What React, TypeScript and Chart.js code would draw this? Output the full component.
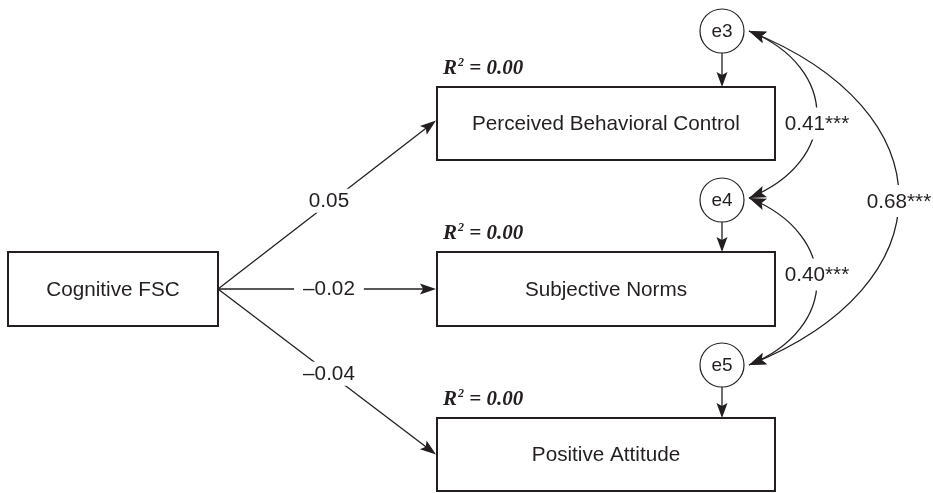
import React, { useEffect, useRef } from "react";
import { Chart, registerables } from "chart.js";

Chart.register(...registerables);

// ---------- data ----------
const observedNames = [
  "Cognitive FSC",
  "Perceived Behavioral Control",
  "Subjective Norms",
  "Positive Attitude",
];
const errorNames = ["e3", "e4", "e5"];
const errorTargets = [1, 2, 3];
const r2Values = [0.0, 0.0, 0.0];
const r2Targets = [1, 2, 3];
const pathSource = 0;
const pathTargets = [1, 2, 3];
const pathCoefs = [0.05, -0.02, -0.04];
const covFrom = [0, 1, 0];
const covTo = [1, 2, 2];
const covValues = [0.41, 0.4, 0.68];
const covSig = ["***", "***", "***"];

// ---------- layout (diagram coordinates, one unit = one pixel) ----------
const boxCX = [113, 606, 606, 606];
const boxCY = [289, 123.5, 289, 454.5];
const boxW = [210, 338, 338, 338];
const boxH = [74, 73, 74, 73];
const errCX = [722, 722, 722];
const errCY = [31, 200, 365];
const errR = 22;
const covBulgeX = [817, 817, 899];
const covLabelDY = [9, -7, 3];

const INK = "#231f20";
const SANS = "'Liberation Sans', Arial, Helvetica, sans-serif";
const SERIF = "'Liberation Serif', 'Times New Roman', serif";
const FS = 20.7;

function fmt(v: number): string {
  const s = Math.abs(v).toFixed(2);
  return v < 0 ? "\u2013" + s : s;
}

function arrowHead(
  ctx: CanvasRenderingContext2D,
  tipX: number,
  tipY: number,
  dirX: number,
  dirY: number,
  len: number,
  half: number
) {
  const n = Math.hypot(dirX, dirY) || 1;
  const ux = dirX / n;
  const uy = dirY / n;
  const bx = tipX - ux * len;
  const by = tipY - uy * len;
  const nx = -uy;
  const ny = ux;
  ctx.beginPath();
  ctx.moveTo(tipX, tipY);
  ctx.lineTo(bx + nx * half, by + ny * half);
  ctx.lineTo(tipX - ux * len * 0.8, tipY - uy * len * 0.8);
  ctx.lineTo(bx - nx * half, by - ny * half);
  ctx.closePath();
  ctx.fill();
}

function label(ctx: CanvasRenderingContext2D, text: string, x: number, y: number, padX: number, padY: number) {
  ctx.font = `${FS}px ${SANS}`;
  const w = ctx.measureText(text).width;
  ctx.fillStyle = "#ffffff";
  ctx.fillRect(x - w / 2 - padX, y - 10 - padY, w + 2 * padX, 20 + 2 * padY);
  ctx.fillStyle = INK;
  ctx.textAlign = "center";
  ctx.textBaseline = "middle";
  ctx.fillText(text, x, y + 1);
}

const diagramPlugin = {
  id: "pathDiagram",
  afterDatasetsDraw(chart: any) {
    const ctx: CanvasRenderingContext2D = chart.ctx;
    const xs = chart.scales.x;
    const ys = chart.scales.y;
    const px = (v: number) => xs.getPixelForValue(v);
    const py = (v: number) => ys.getPixelForValue(v);
    ctx.save();
    ctx.strokeStyle = INK;
    ctx.fillStyle = INK;
    ctx.lineCap = "butt";

    // regression paths
    const sx = px(boxCX[pathSource] + boxW[pathSource] / 2);
    const sy = py(boxCY[pathSource]);
    pathTargets.forEach((t, i) => {
      const tx = px(boxCX[t] - boxW[t] / 2) - 1;
      const ty = py(boxCY[t] - (i === 0 ? 3 : 0));
      const dx = tx - sx;
      const dy = ty - sy;
      const n = Math.hypot(dx, dy);
      ctx.lineWidth = 1.3;
      ctx.beginPath();
      ctx.moveTo(sx, sy);
      ctx.lineTo(tx - (dx / n) * 9, ty - (dy / n) * 9);
      ctx.stroke();
      arrowHead(ctx, tx, ty, dx, dy, 16, 5.5);
      const mx = sx + dx * 0.5;
      const my = sy + dy * 0.5 - (i === 0 ? 4 : i === 2 ? -2 : 1);
      label(ctx, fmt(pathCoefs[i]), mx + 2, my, 9, 2);
      ctx.fillStyle = INK;
    });

    // covariance arcs
    covValues.forEach((v, i) => {
      const a = covFrom[i];
      const b = covTo[i];
      const p0x = px(errCX[a] + errR + 5);
      const p0y = py(errCY[a] - (a === 1 ? 2 : 0));
      const p1x = px(errCX[b] + errR + 5);
      const p1y = py(errCY[b] - (b === 1 ? 2 : 0));
      const bulge = px(covBulgeX[i]);
      const k = (bulge - p0x) / 0.75;
      const lift = k * 0.4;
      const c1x = p0x + k;
      const c1y = p0y + lift;
      const c2x = p1x + k;
      const c2y = p1y - lift;
      ctx.lineWidth = 1.3;
      ctx.beginPath();
      ctx.moveTo(p0x, p0y);
      ctx.bezierCurveTo(c1x, c1y, c2x, c2y, p1x, p1y);
      ctx.stroke();
      arrowHead(ctx, p0x, p0y, p0x - c1x, p0y - c1y, 17, 6);
      arrowHead(ctx, p1x, p1y, p1x - c2x, p1y - c2y, 17, 6);
      const midY = (p0y + 3 * c1y + 3 * c2y + p1y) / 8 + covLabelDY[i];
      label(ctx, fmt(v) + covSig[i], bulge, midY, 1, 6);
      ctx.fillStyle = INK;
    });

    // error terms
    errorNames.forEach((name, i) => {
      const cx = px(errCX[i]);
      const cy = py(errCY[i]);
      const t = errorTargets[i];
      const topY = py(boxCY[t] - boxH[t] / 2);
      ctx.lineWidth = 1.3;
      ctx.beginPath();
      ctx.moveTo(cx, cy + errR);
      ctx.lineTo(cx, topY - 10);
      ctx.stroke();
      arrowHead(ctx, cx, topY, 0, 1, 15, 5.5);
      ctx.fillStyle = "#ffffff";
      ctx.beginPath();
      ctx.arc(cx, cy, errR, 0, Math.PI * 2);
      ctx.fill();
      ctx.lineWidth = 1.2;
      ctx.stroke();
      ctx.fillStyle = INK;
      ctx.font = `19px ${SANS}`;
      ctx.textAlign = "center";
      ctx.textBaseline = "middle";
      ctx.fillText(name, cx, cy + 1);
    });

    // observed boxes
    observedNames.forEach((name, i) => {
      const x0 = px(boxCX[i] - boxW[i] / 2);
      const x1 = px(boxCX[i] + boxW[i] / 2);
      const y0 = py(boxCY[i] - boxH[i] / 2);
      const y1 = py(boxCY[i] + boxH[i] / 2);
      ctx.fillStyle = "#ffffff";
      ctx.fillRect(x0, y0, x1 - x0, y1 - y0);
      ctx.lineWidth = 2;
      ctx.strokeRect(x0, y0, x1 - x0, y1 - y0);
      ctx.fillStyle = INK;
      ctx.font = `${FS}px ${SANS}`;
      ctx.textAlign = "center";
      ctx.textBaseline = "middle";
      ctx.fillText(name, (x0 + x1) / 2, (y0 + y1) / 2 + 1);
    });

    // R-squared labels
    r2Targets.forEach((t, i) => {
      const x = px(boxCX[t] - boxW[t] / 2) + 6;
      const base = py(boxCY[t] - boxH[t] / 2) - 13;
      ctx.fillStyle = INK;
      ctx.textAlign = "left";
      ctx.textBaseline = "alphabetic";
      ctx.font = `italic bold 21px ${SERIF}`;
      ctx.fillText("R", x, base);
      const w1 = ctx.measureText("R").width;
      ctx.font = `italic bold 12px ${SERIF}`;
      ctx.fillText("2", x + w1 + 1, base - 8);
      const w2 = ctx.measureText("2").width;
      ctx.font = `italic bold 21px ${SERIF}`;
      ctx.fillText(" = " + r2Values[i].toFixed(2), x + w1 + 1 + w2, base);
    });

    ctx.restore();
  },
};

export default function App() {
  const canvasRef = useRef<HTMLCanvasElement | null>(null);

  useEffect(() => {
    document.body.style.margin = "0";
    const canvas = canvasRef.current;
    if (!canvas) return;
    const nodePoints = [
      ...observedNames.map((_, i) => ({ x: boxCX[i], y: boxCY[i] })),
      ...errorNames.map((_, i) => ({ x: errCX[i], y: errCY[i] })),
    ];
    const chart = new Chart(canvas, {
      type: "scatter",
      data: {
        datasets: [
          {
            data: nodePoints,
            pointRadius: 0,
            pointHoverRadius: 0,
          },
        ],
      },
      options: {
        animation: false,
        responsive: true,
        maintainAspectRatio: false,
        events: [],
        layout: { padding: 0 },
        plugins: {
          legend: { display: false },
          tooltip: { enabled: false },
        },
        scales: {
          x: { type: "linear", min: 0, max: 933, display: false },
          y: { type: "linear", min: 0, max: 493, reverse: true, display: false },
        },
      },
      plugins: [diagramPlugin],
    });
    return () => chart.destroy();
  }, []);

  return (
    <div style={{ position: "absolute", left: 0, top: 0, width: 933, height: 493, background: "#ffffff" }}>
      <canvas ref={canvasRef} />
    </div>
  );
}
